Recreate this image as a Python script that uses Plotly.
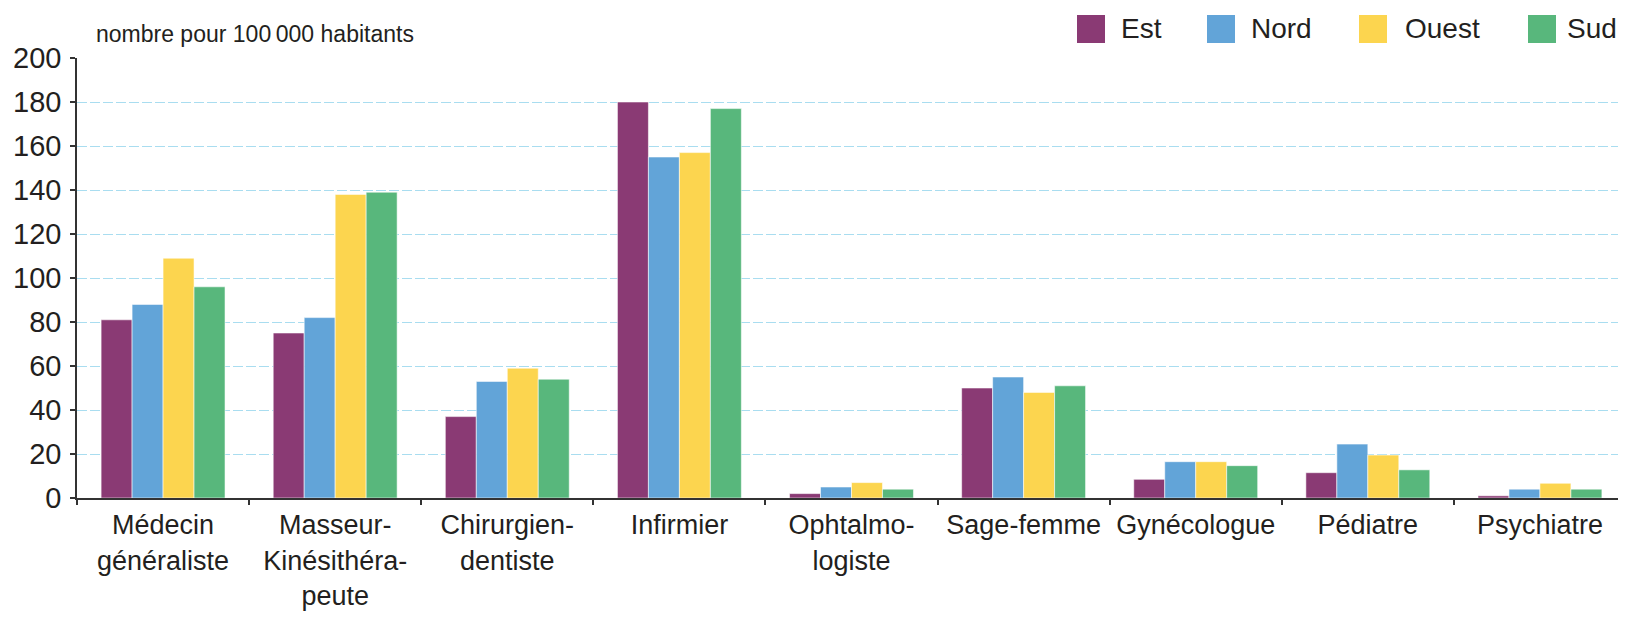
import plotly.graph_objects as go

categories = ["Médecin<br>généraliste", "Masseur-<br>Kinésithéra-<br>peute", "Chirurgien-<br>dentiste",
              "Infirmier", "Ophtalmo-<br>logiste", "Sage-femme", "Gynécologue", "Pédiatre", "Psychiatre"]
series_names = ["Est", "Nord", "Ouest", "Sud"]
est = [81, 75, 37, 180, 2, 50, 8.5, 11.5, 1]
nord = [88, 82, 53, 155, 5, 55, 16.5, 24.5, 4]
ouest = [109, 138, 59, 157, 7, 48, 16.5, 19.5, 6.7]
sud = [96, 139, 54, 177, 4, 51, 14.7, 12.8, 4]
values = [est, nord, ouest, sud]
colors = ["#8A3A74", "#62A4D8", "#FCD54F", "#58B77C"]
y_ticks = [0, 20, 40, 60, 80, 100, 120, 140, 160, 180, 200]
unit_label = "nombre pour 100\u2009000 habitants"

FONT = "Liberation Sans, Arial, sans-serif"
TXT = "#231F20"
OFF = 8  # default page body margin
PAGE_W, PAGE_H = 1626, 617
W, H = PAGE_W - OFF, PAGE_H - OFF
# plot area in page pixels: x 77..1626, y 58..498
L, R, T, B = 77 - OFF, 0, 58 - OFF, PAGE_H - 498
pw, ph = W - L - R, H - T - B


def px_x(x):
    return (x - OFF - L) / pw


def px_y(y):
    return (H - B - (y - OFF)) / ph


fig = go.Figure()
for name, vals, col in zip(series_names, values, colors):
    fig.add_trace(go.Bar(
        x=categories, y=vals, name=name,
        marker=dict(color=col, line=dict(color="rgba(255,255,255,0.55)", width=1)),
        showlegend=False,
    ))

# manual legend (large squares like the reference)
leg_sq_x = [1077, 1207, 1359, 1528]
leg_tx_x = [1120, 1250, 1404, 1566]
shapes = []
annotations = []
for name, col, sx, tx in zip(series_names, colors, leg_sq_x, leg_tx_x):
    shapes.append(dict(type="rect", xref="paper", yref="paper",
                       x0=px_x(sx), x1=px_x(sx + 28), y0=px_y(43), y1=px_y(15),
                       fillcolor=col, line=dict(width=0)))
    annotations.append(dict(text=name, xref="paper", yref="paper", x=px_x(tx), y=px_y(29),
                            xanchor="left", yanchor="middle", showarrow=False, borderpad=0,
                            font=dict(family=FONT, size=28, color=TXT)))

annotations.append(dict(text=unit_label, xref="paper", yref="paper", x=px_x(94), y=px_y(34),
                        xanchor="left", yanchor="middle", showarrow=False,
                        font=dict(family=FONT, size=23, color=TXT)))

fig.update_layout(
    width=W, height=H,
    margin=dict(l=L, r=R, t=T, b=B, pad=0),
    paper_bgcolor="white", plot_bgcolor="white",
    barmode="group", bargap=0.28, bargroupgap=0,
    shapes=shapes, annotations=annotations,
    font=dict(family=FONT, color=TXT),
    xaxis=dict(
        type="category", tickson="boundaries", ticks="outside", ticklen=5, tickwidth=1.5,
        tickcolor="#333333", showline=True, linecolor="#333333", linewidth=2,
        showgrid=False, tickfont=dict(family=FONT, size=27, color=TXT),
        tickangle=0, automargin=False, ticklabelstandoff=2, fixedrange=True,
    ),
    yaxis=dict(
        range=[0, 200], tickvals=y_ticks, ticks="outside", ticklen=5, tickwidth=1.5,
        tickcolor="#333333", showline=True, linecolor="#333333", linewidth=1.5,
        showgrid=True, gridcolor="#A9DDF0", gridwidth=1.2, griddash="10px,3px",
        zeroline=False, tickfont=dict(family=FONT, size=29, color=TXT),
        automargin=False, ticklabelstandoff=3, fixedrange=True,
    ),
)

fig.write_html("out.html")
